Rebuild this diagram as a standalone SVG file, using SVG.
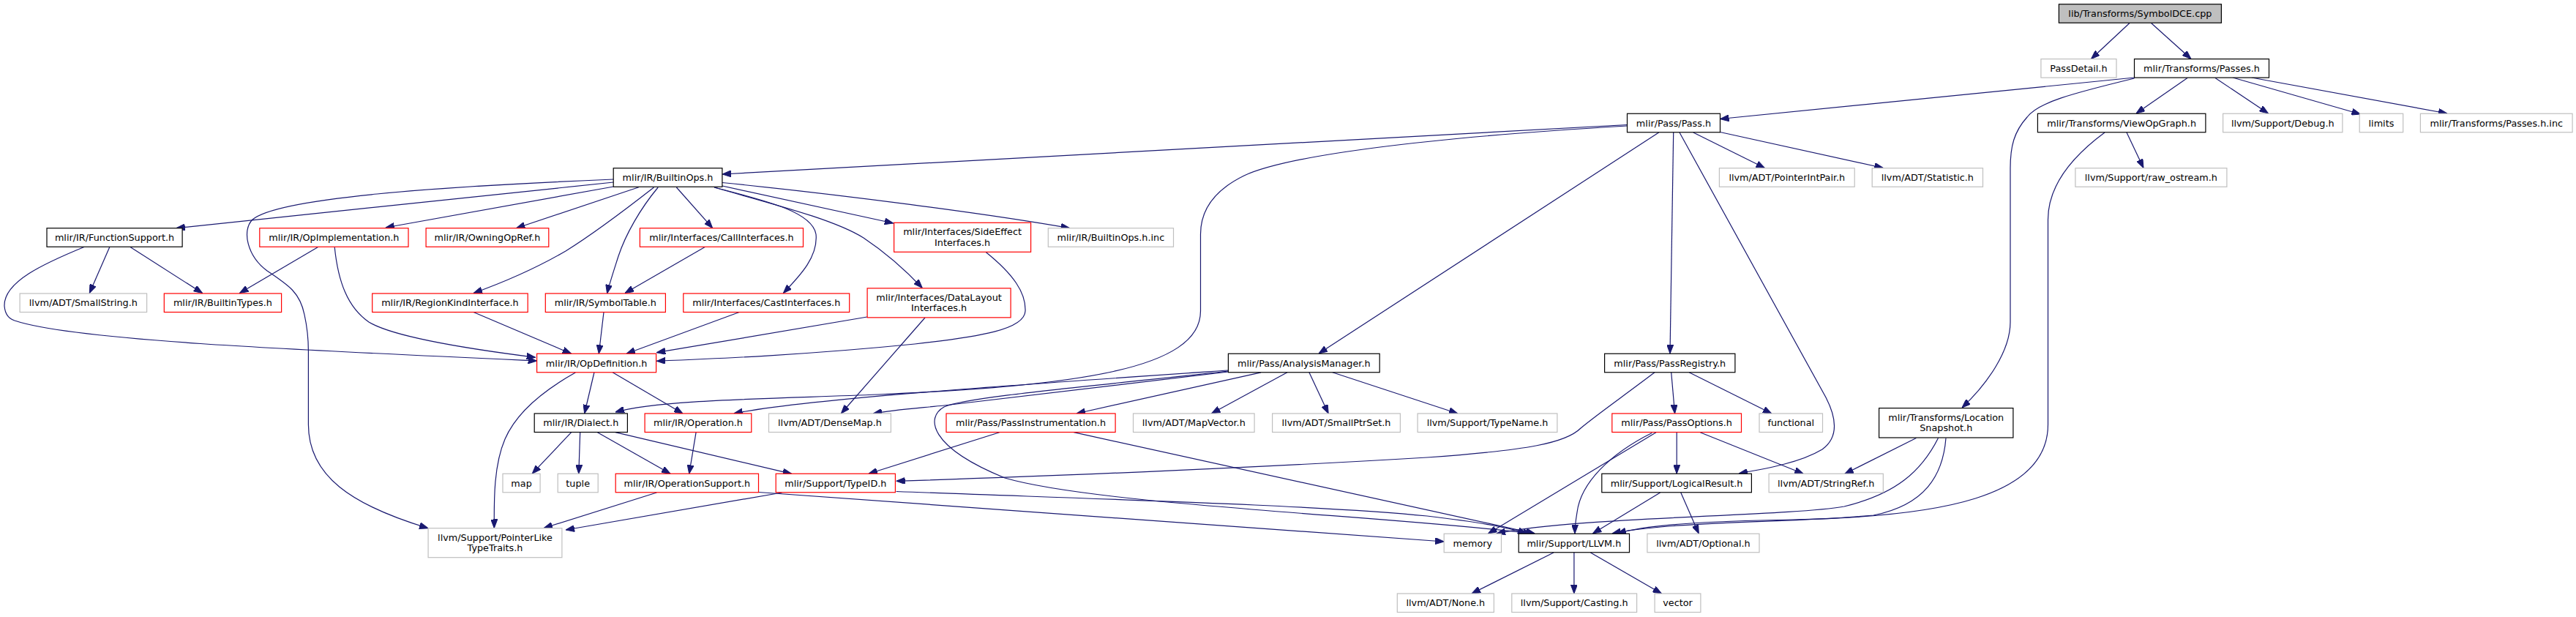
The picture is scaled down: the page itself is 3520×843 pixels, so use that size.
<svg xmlns="http://www.w3.org/2000/svg" width="3520" height="843" viewBox="0 0 3520 843">
<defs>
<style>
.node rect{fill:#ffffff;stroke-width:1.2}
.b rect{stroke:#000000}
.r rect{stroke:#ff0000}
.g rect{stroke:#bfbfbf}
.root rect{fill:#bfbfbf;stroke:#000000}
text{font-family:"DejaVu Sans","Liberation Sans",sans-serif;font-size:12.8px;fill:#000000;text-anchor:middle}
#edges path{fill:none;stroke:#191970;stroke-width:1.2;marker-end:url(#arr)}
</style>
<marker id="arr" viewBox="0 0 12 9" refX="12" refY="4.5" markerWidth="12" markerHeight="9" orient="auto" markerUnits="userSpaceOnUse">
<path d="M0,0 L12,4.5 L0,9 z" fill="#191970" stroke="#191970" stroke-width="1"/>
</marker>
</defs>
<rect x="0" y="0" width="3520" height="843" fill="#ffffff"/>
<g id="edges">
<path d="M2910,31.5 L2857.5,80.5"/>
<path d="M2939.5,31.5 L2994,80.5"/>
<path d="M2916.5,106 L2350.5,162.5"/>
<path d="M2989,106.5 L2919,155"/>
<path d="M2916.5,107 C2830,128 2785,140 2770,160 C2752,180 2747,200 2747,230 L2747,440 C2747,480 2715,525 2681,557"/>
<path d="M3027,106.5 L3099.5,155"/>
<path d="M3051,106 L3225.5,156"/>
<path d="M3076.7,106 L3344,155"/>
<path d="M2906,181 L2929,229.5"/>
<path d="M2876,181 C2830,215 2798.5,255 2798.5,300 L2798.5,580 C2798.5,680 2650,706 2450,710 C2330,712 2250,717 2210,729"/>
<path d="M2223.5,170.5 L987,238"/>
<path d="M2223.5,172 C1950,188 1760,212 1700,240 C1655,262 1640.5,290 1640.5,320 L1640.5,425 C1640.5,505 1470,527 1200,539 C1050,545 900,546 841,563"/>
<path d="M2266.7,181 L1802,483"/>
<path d="M2286.7,181 L2282,483"/>
<path d="M2295,181 L2495,543 C2510,572 2512,598 2490,614 C2460,632 2415,640 2376,647"/>
<path d="M2313.8,181 L2411.5,229.5"/>
<path d="M2350.5,180.5 L2573.3,229.5"/>
<path d="M838.2,249 L240.8,311.7"/>
<path d="M838.2,255 L526.8,311"/>
<path d="M838.2,245 C600,255 380,270 345,300 C330,315 338,350 365,370 C395,390 410,400 416,430 C420,448 421.4,460 421.4,480 L421.4,580 C421.4,650 480,690 585,721.7"/>
<path d="M872.9,255.7 L705.4,311.7"/>
<path d="M893.5,256 C850,290 810,320 773,343 C730,368 690,385 647,400.5"/>
<path d="M899.2,256 C875,285 855,320 845,350 C837,375 832,390 829.6,401"/>
<path d="M924.4,256 L973.7,311.7"/>
<path d="M976,256 C1050,275 1110,290 1115,320 C1118,350 1095,375 1070.4,400.5"/>
<path d="M976,256 C1060,280 1140,300 1180,325 C1210,345 1240,372 1260.3,393.5"/>
<path d="M986.9,254 L1220.8,305"/>
<path d="M986.9,249.5 C1150,266 1350,292 1461.6,311.7"/>
<path d="M149.8,337.5 L122.3,400.5"/>
<path d="M178,337.5 L276.6,400.5"/>
<path d="M114.8,337.5 C60,360 5,385 6,418 C7,430 12,435 20,438 C100,465 400,478 733.6,493"/>
<path d="M434.6,337.5 L327.4,400.5"/>
<path d="M457.2,337.5 C462,385 475,420 504,440 C540,462 650,478 731.7,488.3"/>
<path d="M647.1,426.5 L780.7,483.3"/>
<path d="M825,426.5 L818.3,483.3"/>
<path d="M1010.2,426.5 L855.9,483.3"/>
<path d="M1185,433 L897.3,481.7"/>
<path d="M1346.9,344.3 C1385,375 1402,400 1401,425 C1400,450 1340,460 1250,470 C1100,485 980,490 897.3,493.3"/>
<path d="M963.2,337.5 L854,400.5"/>
<path d="M1264,434 L1149.4,565"/>
<path d="M811.9,509 L798.7,565"/>
<path d="M837.1,508.8 L933,565"/>
<path d="M786.3,509 C740,535 705,565 690,600 C675,635 675,680 675.3,721.5"/>
<path d="M780.7,590.7 L727.2,647.2"/>
<path d="M792.7,590.7 L790.8,647.2"/>
<path d="M816.4,590.7 L916.1,647.3"/>
<path d="M840.9,590.7 L1081.7,647.3"/>
<path d="M951.1,590.7 L941.7,647.3"/>
<path d="M897.3,673 L743,721.5"/>
<path d="M1036.5,672.5 L1973.2,740"/>
<path d="M1068.5,673 L773.1,724"/>
<path d="M1224.6,671.5 C1500,682 1800,690 1950,705 C2010,712 2060,720 2086,729"/>
<path d="M1365.7,590.7 L1186.9,647.3"/>
<path d="M1467.3,590.7 L2097.4,729"/>
<path d="M1678.4,506 C1400,525 1100,545 1002.7,565"/>
<path d="M1678.4,508 L1290,554 C1250,558 1220,560 1193.3,565"/>
<path d="M1723,508.8 L1471,565"/>
<path d="M1759,508.8 L1655.4,565"/>
<path d="M1788.9,508.8 L1815.2,565"/>
<path d="M1820.8,508.8 L1992,565"/>
<path d="M1678.4,507 C1500,527 1320,542 1290,556 C1265,570 1268,610 1373,653 C1500,690 1900,705 2093.6,729"/>
<path d="M2283.7,508.8 L2288.6,565"/>
<path d="M2308.1,508.8 L2420.9,565"/>
<path d="M2261,508.8 C2220,540 2180,568 2160,585 C2140,605 2090,615 1950,625 C1700,640 1400,652 1224.6,657.3"/>
<path d="M2263,590.7 L2033.5,729"/>
<path d="M2257.3,591.5 C2200,620 2160,660 2155,700 C2153,712 2152,720 2152,729"/>
<path d="M2291.2,590.7 L2291.2,647.2"/>
<path d="M2323.2,590.7 L2464.2,647.3"/>
<path d="M2268.6,673 L2176.4,729"/>
<path d="M2296.8,673 L2321.3,729"/>
<path d="M2618.4,598.5 L2520.6,647.5"/>
<path d="M2648.5,598.5 C2625,645 2590,675 2520,692 C2440,706 2150,706 2045,729"/>
<path d="M2659,598.5 C2655,650 2630,690 2560,704 C2460,714 2280,712 2202.8,729"/>
<path d="M2123,755 L2010.9,811"/>
<path d="M2150.9,755 L2150.9,811"/>
<path d="M2173.4,755 L2270.5,811"/>
</g>
<g id="node-SymbolDCE" class="node root"><rect x="2813.4" y="5.75" width="222" height="25.5"/><text x="2924.4" y="23">lib/Transforms/SymbolDCE.cpp</text></g>
<g id="node-PassDetail" class="node g"><rect x="2788.9" y="80.6" width="103.1" height="25.5"/><text x="2840.45" y="97.85">PassDetail.h</text></g>
<g id="node-Passes" class="node b"><rect x="2916.5" y="80.6" width="184" height="25.5"/><text x="3008.5" y="97.85">mlir/Transforms/Passes.h</text></g>
<g id="node-Pass" class="node b"><rect x="2223.5" y="155.25" width="127" height="25.5"/><text x="2287" y="172.5">mlir/Pass/Pass.h</text></g>
<g id="node-ViewOpGraph" class="node b"><rect x="2784.4" y="155.25" width="229.5" height="25.5"/><text x="2899.15" y="172.5">mlir/Transforms/ViewOpGraph.h</text></g>
<g id="node-Debug" class="node g"><rect x="3037.6" y="155.25" width="163.3" height="25.5"/><text x="3119.25" y="172.5">llvm/Support/Debug.h</text></g>
<g id="node-limits" class="node g"><rect x="3224.2" y="155.25" width="59.5" height="25.5"/><text x="3253.95" y="172.5">limits</text></g>
<g id="node-PassesInc" class="node g"><rect x="3307.4" y="155.25" width="207.7" height="25.5"/><text x="3411.25" y="172.5">mlir/Transforms/Passes.h.inc</text></g>
<g id="node-BuiltinOps" class="node b"><rect x="838.2" y="229.75" width="148.7" height="25.5"/><text x="912.55" y="247">mlir/IR/BuiltinOps.h</text></g>
<g id="node-PointerIntPair" class="node g"><rect x="2349.4" y="229.75" width="184.8" height="25.5"/><text x="2441.8" y="247">llvm/ADT/PointerIntPair.h</text></g>
<g id="node-Statistic" class="node g"><rect x="2558.2" y="229.75" width="151.3" height="25.5"/><text x="2633.85" y="247">llvm/ADT/Statistic.h</text></g>
<g id="node-raw_ostream" class="node g"><rect x="2835.9" y="229.75" width="207" height="25.5"/><text x="2939.4" y="247">llvm/Support/raw_ostream.h</text></g>
<g id="node-FunctionSupport" class="node b"><rect x="64" y="311.75" width="185.1" height="25.5"/><text x="156.55" y="329">mlir/IR/FunctionSupport.h</text></g>
<g id="node-OpImplementation" class="node r"><rect x="354.8" y="311.75" width="203.2" height="25.5"/><text x="456.4" y="329">mlir/IR/OpImplementation.h</text></g>
<g id="node-OwningOpRef" class="node r"><rect x="582.1" y="311.75" width="167.7" height="25.5"/><text x="665.95" y="329">mlir/IR/OwningOpRef.h</text></g>
<g id="node-CallInterfaces" class="node r"><rect x="874.4" y="311.75" width="223.1" height="25.5"/><text x="985.95" y="329">mlir/Interfaces/CallInterfaces.h</text></g>
<g id="node-SideEffect" class="node r"><rect x="1221.6" y="304.3" width="187" height="40"/><text x="1315.1" y="321.3">mlir/Interfaces/SideEffect</text><text x="1315.1" y="335.8">Interfaces.h</text></g>
<g id="node-BuiltinOpsInc" class="node g"><rect x="1432.3" y="311.75" width="171.2" height="25.5"/><text x="1517.9" y="329">mlir/IR/BuiltinOps.h.inc</text></g>
<g id="node-SmallString" class="node g"><rect x="27.1" y="401" width="173.5" height="25.5"/><text x="113.85" y="418.25">llvm/ADT/SmallString.h</text></g>
<g id="node-BuiltinTypes" class="node r"><rect x="224.3" y="401" width="160.3" height="25.5"/><text x="304.45" y="418.25">mlir/IR/BuiltinTypes.h</text></g>
<g id="node-RegionKind" class="node r"><rect x="508.7" y="401" width="212.5" height="25.5"/><text x="614.95" y="418.25">mlir/IR/RegionKindInterface.h</text></g>
<g id="node-SymbolTable" class="node r"><rect x="745.3" y="401" width="164.1" height="25.5"/><text x="827.35" y="418.25">mlir/IR/SymbolTable.h</text></g>
<g id="node-CastInterfaces" class="node r"><rect x="933.8" y="401" width="226.9" height="25.5"/><text x="1047.25" y="418.25">mlir/Interfaces/CastInterfaces.h</text></g>
<g id="node-DataLayout" class="node r"><rect x="1185.1" y="393.85" width="196" height="40"/><text x="1283.1" y="410.85">mlir/Interfaces/DataLayout</text><text x="1283.1" y="425.35">Interfaces.h</text></g>
<g id="node-OpDefinition" class="node r"><rect x="733.6" y="483.25" width="163" height="25.5"/><text x="815.1" y="500.5">mlir/IR/OpDefinition.h</text></g>
<g id="node-AnalysisManager" class="node b"><rect x="1678.4" y="483.25" width="206.8" height="25.5"/><text x="1781.8" y="500.5">mlir/Pass/AnalysisManager.h</text></g>
<g id="node-PassRegistry" class="node b"><rect x="2192.6" y="483.25" width="178.3" height="25.5"/><text x="2281.75" y="500.5">mlir/Pass/PassRegistry.h</text></g>
<g id="node-Dialect" class="node b"><rect x="730.2" y="565" width="127.2" height="25.5"/><text x="793.8" y="582.25">mlir/IR/Dialect.h</text></g>
<g id="node-Operation" class="node r"><rect x="881.1" y="565" width="145.7" height="25.5"/><text x="953.95" y="582.25">mlir/IR/Operation.h</text></g>
<g id="node-DenseMap" class="node g"><rect x="1050.5" y="565" width="166.9" height="25.5"/><text x="1133.95" y="582.25">llvm/ADT/DenseMap.h</text></g>
<g id="node-PassInstrumentation" class="node r"><rect x="1293" y="565" width="231.1" height="25.5"/><text x="1408.55" y="582.25">mlir/Pass/PassInstrumentation.h</text></g>
<g id="node-MapVector" class="node g"><rect x="1548.5" y="565" width="165.6" height="25.5"/><text x="1631.3" y="582.25">llvm/ADT/MapVector.h</text></g>
<g id="node-SmallPtrSet" class="node g"><rect x="1738.6" y="565" width="174.8" height="25.5"/><text x="1826" y="582.25">llvm/ADT/SmallPtrSet.h</text></g>
<g id="node-TypeName" class="node g"><rect x="1937.1" y="565" width="190.8" height="25.5"/><text x="2032.5" y="582.25">llvm/Support/TypeName.h</text></g>
<g id="node-PassOptions" class="node r"><rect x="2202.8" y="565" width="176.7" height="25.5"/><text x="2291.15" y="582.25">mlir/Pass/PassOptions.h</text></g>
<g id="node-functional" class="node g"><rect x="2404" y="565" width="86.5" height="25.5"/><text x="2447.25" y="582.25">functional</text></g>
<g id="node-LocationSnapshot" class="node b"><rect x="2567.6" y="557.6" width="183.3" height="40.4"/><text x="2659.25" y="574.6">mlir/Transforms/Location</text><text x="2659.25" y="589.1">Snapshot.h</text></g>
<g id="node-map" class="node g"><rect x="687" y="647.25" width="51.1" height="25.5"/><text x="712.55" y="664.5">map</text></g>
<g id="node-tuple" class="node g"><rect x="762.2" y="647.25" width="55" height="25.5"/><text x="789.7" y="664.5">tuple</text></g>
<g id="node-OperationSupport" class="node r"><rect x="841.2" y="647.25" width="195.3" height="25.5"/><text x="938.85" y="664.5">mlir/IR/OperationSupport.h</text></g>
<g id="node-TypeID" class="node r"><rect x="1060.2" y="647.25" width="163.2" height="25.5"/><text x="1141.8" y="664.5">mlir/Support/TypeID.h</text></g>
<g id="node-LogicalResult" class="node b"><rect x="2188.8" y="647.25" width="204.6" height="25.5"/><text x="2291.1" y="664.5">mlir/Support/LogicalResult.h</text></g>
<g id="node-StringRef" class="node g"><rect x="2417.1" y="647.25" width="156.2" height="25.5"/><text x="2495.2" y="664.5">llvm/ADT/StringRef.h</text></g>
<g id="node-PointerLike" class="node g"><rect x="585.1" y="721.7" width="182.8" height="40"/><text x="676.5" y="738.7">llvm/Support/PointerLike</text><text x="676.5" y="753.2">TypeTraits.h</text></g>
<g id="node-memory" class="node g"><rect x="1973.2" y="729.25" width="78.3" height="25.5"/><text x="2012.35" y="746.5">memory</text></g>
<g id="node-LLVM" class="node b"><rect x="2075.2" y="729.25" width="151.3" height="25.5"/><text x="2150.85" y="746.5">mlir/Support/LLVM.h</text></g>
<g id="node-Optional" class="node g"><rect x="2250.9" y="729.25" width="153.1" height="25.5"/><text x="2327.45" y="746.5">llvm/ADT/Optional.h</text></g>
<g id="node-None" class="node g"><rect x="1909.3" y="811" width="132.1" height="25.5"/><text x="1975.35" y="828.25">llvm/ADT/None.h</text></g>
<g id="node-Casting" class="node g"><rect x="2065.8" y="811" width="170.8" height="25.5"/><text x="2151.2" y="828.25">llvm/Support/Casting.h</text></g>
<g id="node-vector" class="node g"><rect x="2261.1" y="811" width="62.8" height="25.5"/><text x="2292.5" y="828.25">vector</text></g>
</svg>
